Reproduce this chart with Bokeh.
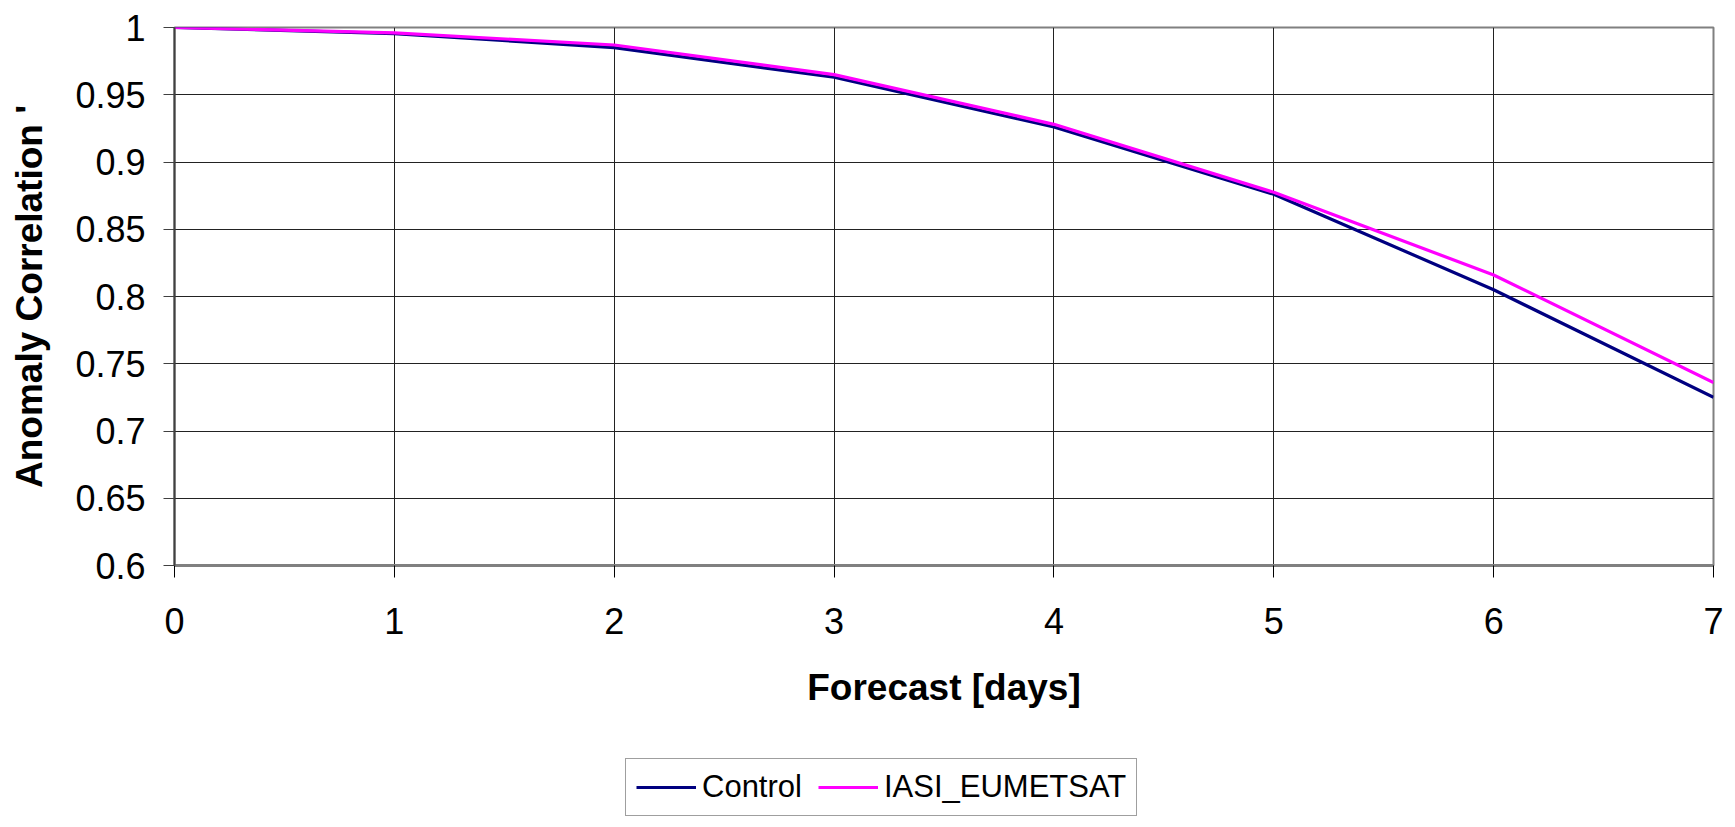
from bokeh.plotting import figure
from bokeh.layouts import column
from bokeh.models import FixedTicker, Legend, LegendItem
from bokeh.embed import file_html
from bokeh.resources import INLINE

days = [0, 1, 2, 3, 4, 5, 6, 7]
control = [1.0, 0.9955, 0.985, 0.963, 0.926, 0.876, 0.805, 0.725]
iasi_eumetsat = [1.0, 0.996, 0.987, 0.965, 0.928, 0.8775, 0.816, 0.736]

x_ticks = [0, 1, 2, 3, 4, 5, 6, 7]
x_tick_labels = ["0", "1", "2", "3", "4", "5", "6", "7"]
y_ticks = [0.6, 0.65, 0.7, 0.75, 0.8, 0.85, 0.9, 0.95, 1.0]
y_tick_labels = ["0.6", "0.65", "0.7", "0.75", "0.8", "0.85", "0.9", "0.95", "1"]
series_names = ["Control", "IASI_EUMETSAT"]
series_colors = ["#000080", "#FF00FF"]

FONT = "Liberation Sans"

p = figure(width=1735, height=740, x_range=(0, 7), y_range=(0.6, 1.0),
           output_backend="svg", toolbar_location=None, tools="",
           min_border_left=174, min_border_right=22, min_border_top=27,
           min_border_bottom=175)

p.background_fill_color = "white"
p.border_fill_color = "white"
p.outline_line_color = "#808080"
p.outline_line_width = 2

p.xaxis.ticker = FixedTicker(ticks=x_ticks)
p.xaxis.major_label_overrides = dict(zip(x_ticks, x_tick_labels))
p.yaxis.ticker = FixedTicker(ticks=y_ticks)
p.yaxis.major_label_overrides = dict(zip(y_ticks, y_tick_labels))

for ax in (p.xaxis[0], p.yaxis[0]):
    ax.major_label_text_font = FONT
    ax.major_label_text_font_size = "36px"
    ax.major_label_text_color = "black"
    ax.axis_label_text_font = FONT
    ax.axis_label_text_font_size = "37px"
    ax.axis_label_text_font_style = "bold"
    ax.axis_label_text_color = "black"
    ax.minor_tick_line_color = None
    ax.major_tick_in = 0

p.xaxis.axis_label = "Forecast [days]"
p.yaxis.axis_label = "Anomaly Correlation '"

p.xaxis.major_tick_out = 12
p.xaxis.major_tick_line_color = "black"
p.xaxis.axis_line_color = "#808080"
p.xaxis.axis_line_width = 3
p.xaxis.major_label_standoff = 30
p.xaxis.axis_label_standoff = 30

p.yaxis.major_tick_out = 11
p.yaxis.major_tick_line_color = "#404040"
p.yaxis.axis_line_color = "#404040"
p.yaxis.axis_line_width = 2
p.yaxis.major_label_standoff = 18
p.yaxis.axis_label_standoff = 22

p.xgrid.grid_line_color = "#222222"
p.xgrid.grid_line_width = 1
p.ygrid.grid_line_color = "#222222"
p.ygrid.grid_line_width = 1

p.line(days, control, line_color=series_colors[0], line_width=3.2)
p.line(days, iasi_eumetsat, line_color=series_colors[1], line_width=3.2)

# legend strip below the chart (its own small figure, no axes)
lg = figure(width=1735, height=87, x_range=(100, 101), y_range=(0, 1),
            output_backend="svg", toolbar_location=None, tools="",
            x_axis_location=None, y_axis_location=None, min_border=0)
lg.outline_line_color = None
lg.xgrid.visible = False
lg.ygrid.visible = False
lc = lg.line(days, control, line_color=series_colors[0], line_width=3.2)
li = lg.line(days, iasi_eumetsat, line_color=series_colors[1], line_width=3.2)

legend = Legend(items=[LegendItem(label=series_names[0], renderers=[lc]),
                       LegendItem(label=series_names[1], renderers=[li])],
                orientation="horizontal", location=(451, 11),
                glyph_width=60, glyph_height=30, label_height=30,
                label_standoff=6, spacing=16, padding=10, margin=0,
                label_text_font=FONT, label_text_font_size="31px",
                label_text_color="black",
                border_line_color="#404040", border_line_width=1,
                background_fill_color="white", background_fill_alpha=1.0)
lg.add_layout(legend, "center")

open("out.html", "w").write(file_html(column(p, lg, spacing=0), INLINE))
